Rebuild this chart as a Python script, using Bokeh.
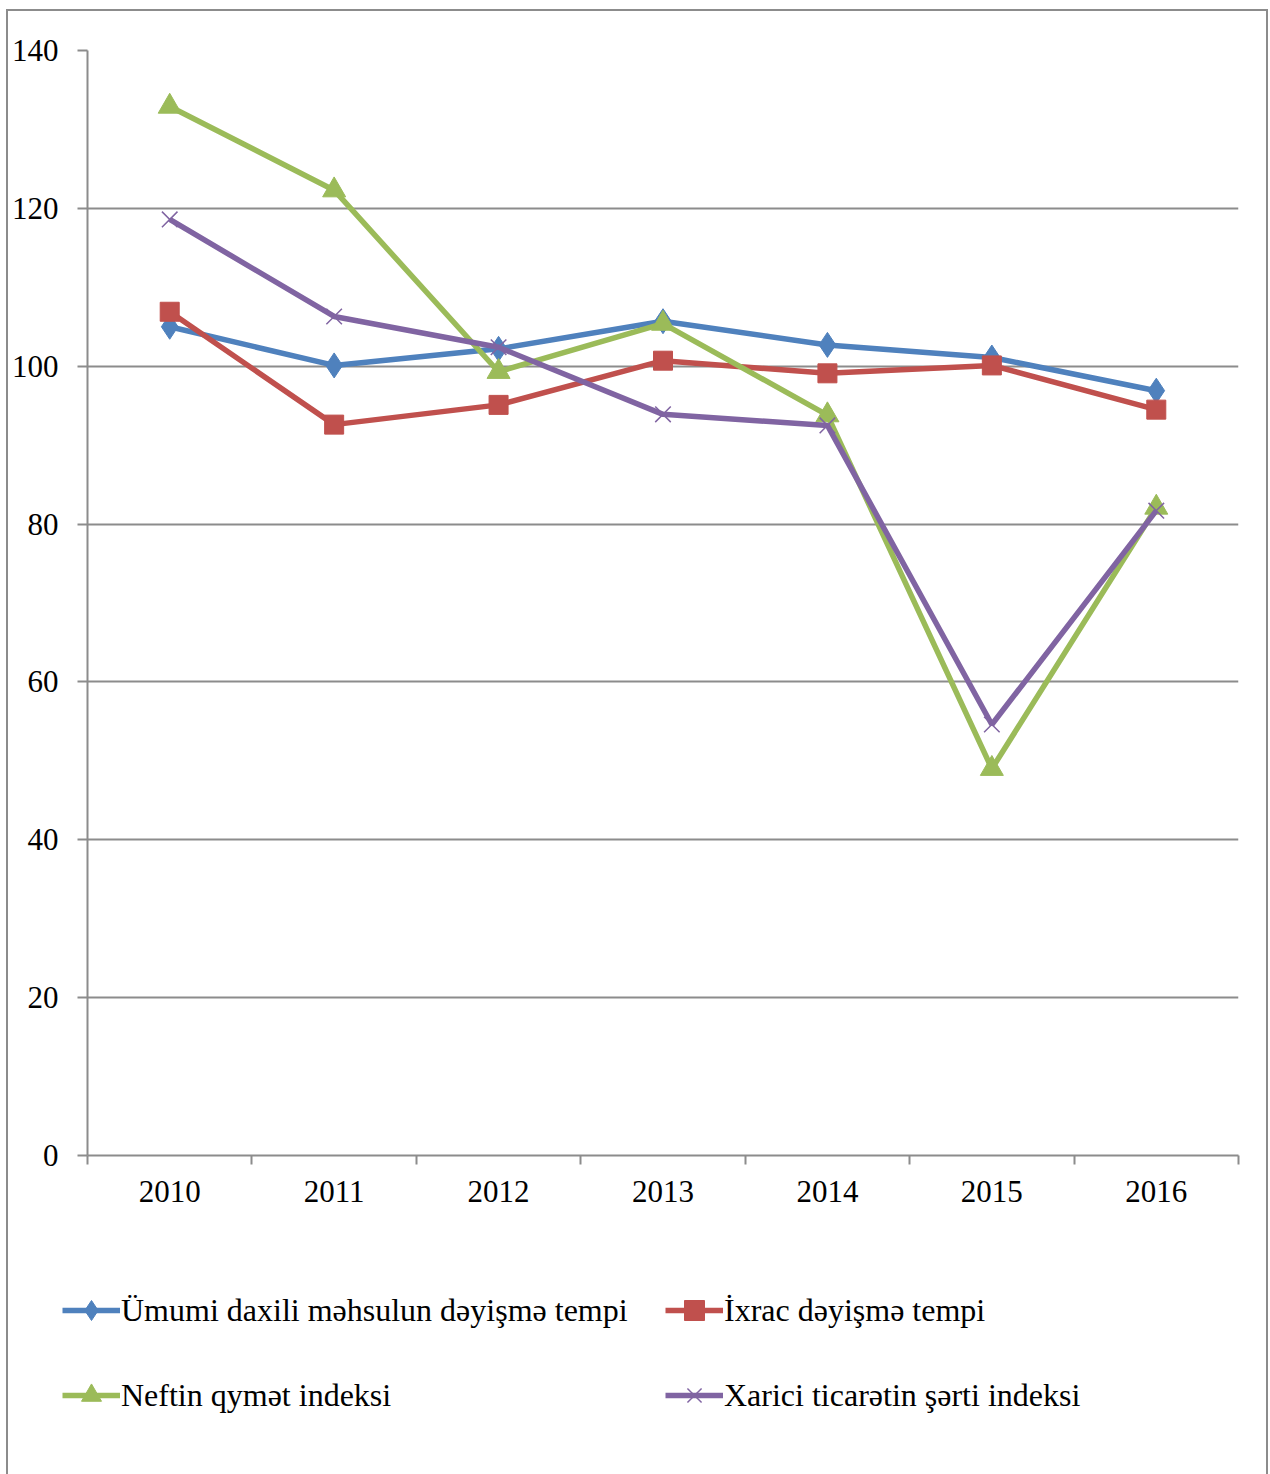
from bokeh.plotting import figure
from bokeh.layouts import column
from bokeh.models import Range1d, FixedTicker, Legend, LegendItem, ColumnDataSource
from bokeh.embed import file_html
from bokeh.resources import INLINE

years = ["2010", "2011", "2012", "2013", "2014", "2015", "2016"]
udm = [105.0, 100.1, 102.2, 105.7, 102.7, 101.1, 96.9]
ixrac = [106.9, 92.6, 95.1, 100.7, 99.1, 100.1, 94.5]
neft = [132.9, 122.3, 99.3, 105.4, 93.8, 49.0, 82.1]
xarici = [118.6, 106.3, 102.4, 93.9, 92.5, 54.6, 81.7]
y_ticks = [0, 20, 40, 60, 80, 100, 120, 140]

names = ["Ümumi daxili məhsulun dəyişmə tempi", "İxrac dəyişmə tempi",
         "Neftin qymət indeksi", "Xarici ticarətin şərti indeksi"]

FONT = "Liberation Serif"
FS = "31px"
LFS = "32px"
GRID = "#8c8c8c"
W = 1258

xpos = [i + 0.5 for i in range(len(years))]

p = figure(width=W, height=1239, output_backend="svg", toolbar_location=None,
           x_range=Range1d(0, len(years)), y_range=Range1d(0, 140),
           min_border_left=79, min_border_right=28, min_border_top=39,
           min_border_bottom=95)
p.outline_line_color = None

# x axis
p.xaxis.ticker = FixedTicker(ticks=xpos, minor_ticks=list(range(len(years) + 1)))
p.xaxis.major_label_overrides = {x: y for x, y in zip(xpos, years)}
p.xaxis.major_tick_out = 0
p.xaxis.major_tick_in = 0
p.xaxis.minor_tick_out = 9
p.xaxis.minor_tick_in = 0
p.xaxis.minor_tick_line_color = GRID
p.xaxis.minor_tick_line_width = 2
p.xaxis.axis_line_color = GRID
p.xaxis.axis_line_width = 2
p.xaxis.major_label_standoff = 16
p.xaxis.major_label_text_font = FONT
p.xaxis.major_label_text_font_size = FS
p.xaxis.major_label_text_color = "black"
p.xgrid.visible = False

# y axis
p.yaxis.ticker = FixedTicker(ticks=y_ticks, minor_ticks=[])
p.yaxis.major_tick_out = 10
p.yaxis.major_tick_in = 0
p.yaxis.major_tick_line_color = GRID
p.yaxis.major_tick_line_width = 2
p.yaxis.axis_line_color = GRID
p.yaxis.axis_line_width = 2
p.yaxis.major_label_standoff = 19
p.yaxis.major_label_text_font = FONT
p.yaxis.major_label_text_font_size = FS
p.yaxis.major_label_text_color = "black"
p.ygrid.grid_line_color = GRID
p.ygrid.grid_line_width = 2

colors = ["#4F81BD", "#C0504D", "#9BBB59", "#8064A2"]
series = [udm, ixrac, neft, xarici]
markers = ["diamond", "square", "triangle", "x"]
msizes = [25, 19, 23, 22]

# legend figure (its frame covers the whole strip)
lf = figure(width=W, height=224, output_backend="svg", toolbar_location=None,
            x_range=Range1d(0, 1), y_range=Range1d(0, 1), min_border=0,
            x_axis_location=None, y_axis_location=None)
lf.frame_align = False
lf.outline_line_color = None
lf.xgrid.visible = False
lf.ygrid.visible = False

def draw(fig, src, col, mk, ms):
    ln = fig.line("x", "y", source=src, line_color=col, line_width=5.5)
    if mk == "x":
        sc = fig.scatter("x", "y", source=src, marker=mk, size=ms, line_color=col,
                         line_width=1.5)
    else:
        sc = fig.scatter("x", "y", source=src, marker=mk, size=ms, fill_color=col,
                         line_color=col, line_width=1)
    return ln, sc

items = []
for name, vals, col, mk, ms in zip(names, series, colors, markers, msizes):
    draw(p, ColumnDataSource(dict(x=xpos, y=vals)), col, mk, ms)
    # off-range sample point: only used for the legend swatch
    ln, sc = draw(lf, ColumnDataSource(dict(x=[-50], y=[-50])), col, mk, ms)
    items.append(LegendItem(label=name, renderers=[ln, sc]))

def make_legend(its, x, y):
    return Legend(items=its, location=(x, y), orientation="vertical",
                  padding=0, margin=0, spacing=35, glyph_width=58, glyph_height=50,
                  label_height=30, label_standoff=1,
                  label_text_font=FONT, label_text_font_size=LFS,
                  label_text_color="black", border_line_color=None,
                  background_fill_alpha=0)

lf.add_layout(make_legend([items[0], items[2]], 54, 54), "center")
lf.add_layout(make_legend([items[1], items[3]], 657, 54), "center")

layout = column(p, lf, spacing=0)
layout.styles = {"border": "2px solid #8c8c8c", "margin-left": "6px",
                 "margin-top": "9px"}

open("out.html", "w").write(file_html(layout, INLINE))
